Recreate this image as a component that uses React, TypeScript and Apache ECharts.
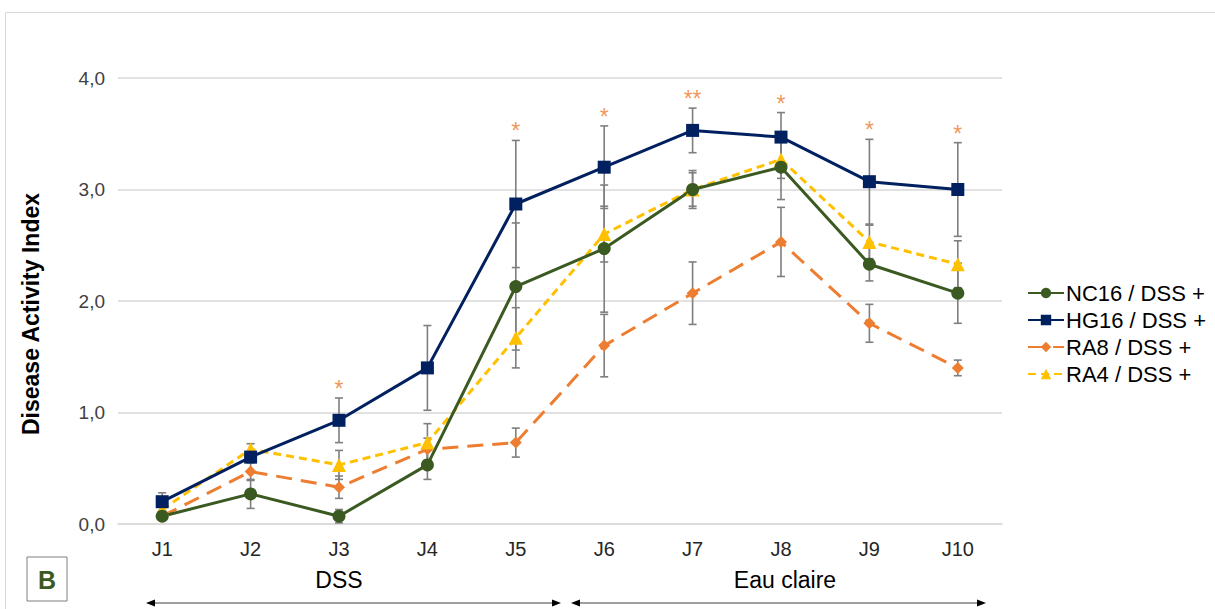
import React, { useEffect, useRef } from "react";
import * as echarts from "echarts";

const categories = ["J1", "J2", "J3", "J4", "J5", "J6", "J7", "J8", "J9", "J10"];
const yTicks = ["0,0", "1,0", "2,0", "3,0", "4,0"];

const nc16 = [0.07, 0.27, 0.07, 0.53, 2.13, 2.47, 3.0, 3.2, 2.33, 2.07];
const nc16Err = [0.03, 0.13, 0.06, 0.13, 0.57, 0.57, 0.17, 0.29, 0.15, 0.27];
const hg16 = [0.2, 0.6, 0.93, 1.4, 2.87, 3.2, 3.53, 3.47, 3.07, 3.0];
const hg16Err = [0.08, 0.05, 0.2, 0.38, 0.57, 0.37, 0.2, 0.22, 0.38, 0.42];
const ra8 = [0.07, 0.47, 0.33, 0.67, 0.73, 1.6, 2.07, 2.53, 1.8, 1.4];
const ra8Err = [0.03, 0.08, 0.1, 0.1, 0.13, 0.28, 0.28, 0.31, 0.17, 0.07];
const ra4 = [0.13, 0.67, 0.53, 0.73, 1.67, 2.6, 3.0, 3.27, 2.53, 2.33];
const ra4Err = [0.03, 0.05, 0.13, 0.17, 0.27, 0.25, 0.15, 0.17, 0.15, 0.21];
const significance = ["", "", "*", "", "*", "*", "**", "*", "*", "*"];

const seriesNames = ["NC16 / DSS +", "HG16 / DSS +", "RA8 / DSS +", "RA4 / DSS +"];
const periods = ["DSS", "Eau claire"];
const yTitle = "Disease Activity Index";

const GREEN = "#3b5a22";
const NAVY = "#002060";
const ORANGE = "#ed7d31";
const GOLD = "#ffc000";

function errSeries(vals: number[], errs: number[]) {
  return {
    type: "custom",
    silent: true,
    z: 3,
    renderItem: (params: any, api: any) => {
      const i = api.value(0);
      const lo = api.coord([i, api.value(1)]);
      const hi = api.coord([i, api.value(2)]);
      const w = 4;
      const st = { stroke: "#7f7f7f", lineWidth: 1.6 };
      return {
        type: "group",
        children: [
          { type: "line", shape: { x1: lo[0], y1: lo[1], x2: hi[0], y2: hi[1] }, style: st },
          { type: "line", shape: { x1: lo[0] - w, y1: lo[1], x2: lo[0] + w, y2: lo[1] }, style: st },
          { type: "line", shape: { x1: hi[0] - w, y1: hi[1], x2: hi[0] + w, y2: hi[1] }, style: st },
        ],
      };
    },
    data: vals.map((v, i) => [i, v - errs[i], v + errs[i]]),
  };
}

export default function App() {
  const ref = useRef<HTMLDivElement>(null);
  useEffect(() => {
    if (!ref.current) return;
    const chart = echarts.init(ref.current, null, { renderer: "svg" });
    const font = "Liberation Sans, Arial, sans-serif";
    const lineCommon = { symbolKeepAspect: true, z: 4 };
    chart.setOption({
      animation: false,
      backgroundColor: "#ffffff",
      textStyle: { fontFamily: font },
      grid: { left: 118, right: 213, top: 78, bottom: 85 },
      xAxis: {
        type: "category",
        data: categories,
        boundaryGap: true,
        axisLine: { show: true, lineStyle: { color: "#d9d9d9", width: 1.5 } },
        axisTick: { show: false },
        axisLabel: { color: "#262626", fontSize: 20, margin: 15, fontFamily: font },
      },
      yAxis: {
        type: "value",
        min: 0,
        max: 4,
        interval: 1,
        axisLine: { show: false },
        axisTick: { show: false },
        splitLine: { lineStyle: { color: "#d9d9d9", width: 1.5 } },
        axisLabel: {
          color: "#404040",
          fontSize: 19,
          margin: 13,
          fontFamily: font,
          formatter: (v: number) => yTicks[Math.round(v)] ?? String(v),
        },
      },
      legend: {
        orient: "vertical",
        left: 1022,
        top: 277,
        itemWidth: 36,
        itemHeight: 13,
        itemGap: 5,
        data: seriesNames,
        textStyle: { fontSize: 22, color: "#000000", fontFamily: font, padding: [0, 0, 0, -3] },
      },
      series: [
        errSeries(nc16, nc16Err),
        errSeries(hg16, hg16Err),
        errSeries(ra8, ra8Err),
        errSeries(ra4, ra4Err),
        {
          ...lineCommon,
          name: seriesNames[2],
          type: "line",
          data: ra8,
          symbol: "diamond",
          symbolSize: 12,
          itemStyle: { color: ORANGE },
          lineStyle: { color: ORANGE, width: 3, type: [16, 9] },
        },
        {
          ...lineCommon,
          name: seriesNames[3],
          type: "line",
          data: ra4,
          symbol: "triangle",
          symbolSize: 14,
          itemStyle: { color: GOLD },
          lineStyle: { color: GOLD, width: 3, type: [8, 5] },
        },
        {
          ...lineCommon,
          name: seriesNames[0],
          type: "line",
          data: nc16,
          symbol: "circle",
          symbolSize: 13,
          itemStyle: { color: GREEN },
          lineStyle: { color: GREEN, width: 3 },
        },
        {
          ...lineCommon,
          name: seriesNames[1],
          type: "line",
          data: hg16,
          symbol: "rect",
          symbolSize: 13,
          itemStyle: { color: NAVY },
          lineStyle: { color: NAVY, width: 3 },
        },
        {
          type: "scatter",
          silent: true,
          symbol: "circle",
          symbolSize: 1,
          itemStyle: { color: "rgba(0,0,0,0)" },
          data: hg16.map((v, i) => [i, v + hg16Err[i]]),
          label: {
            show: true,
            position: "top",
            distance: -3,
            color: ORANGE,
            fontSize: 23,
            fontFamily: font,
            formatter: (p: any) => significance[p.dataIndex],
          },
          z: 6,
        },
      ],
      graphic: [
        {
          type: "rect",
          left: 3,
          top: 10,
          shape: { width: 1220, height: 620 },
          style: { fill: "none", stroke: "#d9d9d9", lineWidth: 1 },
          silent: true,
          z: -1,
        },
        {
          type: "text",
          x: 31,
          y: 314,
          rotation: Math.PI / 2,
          style: {
            text: yTitle,
            fill: "#000000",
            fontSize: 23,
            fontWeight: "bold",
            fontFamily: font,
            align: "center",
            verticalAlign: "middle",
          },
        },
        {
          type: "rect",
          shape: { x: 27, y: 557, width: 40, height: 44 },
          style: { fill: "#ffffff", stroke: "#7f7f7f", lineWidth: 1 },
        },
        {
          type: "text",
          x: 47,
          y: 580,
          style: {
            text: "B",
            fill: GREEN,
            fontSize: 25,
            fontWeight: "bold",
            fontFamily: font,
            align: "center",
            verticalAlign: "middle",
          },
        },
        {
          type: "text",
          x: 339,
          y: 580,
          style: { text: periods[0], fill: "#000000", fontSize: 23, fontFamily: font, align: "center", verticalAlign: "middle" },
        },
        {
          type: "text",
          x: 785,
          y: 580,
          style: { text: periods[1], fill: "#000000", fontSize: 23, fontFamily: font, align: "center", verticalAlign: "middle" },
        },
        { type: "line", shape: { x1: 152, y1: 603, x2: 555, y2: 603 }, style: { stroke: "#404040", lineWidth: 1.2 } },
        { type: "polygon", shape: { points: [[146, 603], [155, 599.5], [155, 606.5]] }, style: { fill: "#000000" } },
        { type: "polygon", shape: { points: [[561, 603], [552, 599.5], [552, 606.5]] }, style: { fill: "#000000" } },
        { type: "line", shape: { x1: 577, y1: 603, x2: 980, y2: 603 }, style: { stroke: "#404040", lineWidth: 1.2 } },
        { type: "polygon", shape: { points: [[571, 603], [580, 599.5], [580, 606.5]] }, style: { fill: "#000000" } },
        { type: "polygon", shape: { points: [[986, 603], [977, 599.5], [977, 606.5]] }, style: { fill: "#000000" } },
      ],
    });
    return () => chart.dispose();
  }, []);
  return (
    <div
      ref={ref}
      style={{ position: "fixed", left: 0, top: 0, width: 1215, height: 609 }}
    />
  );
}
